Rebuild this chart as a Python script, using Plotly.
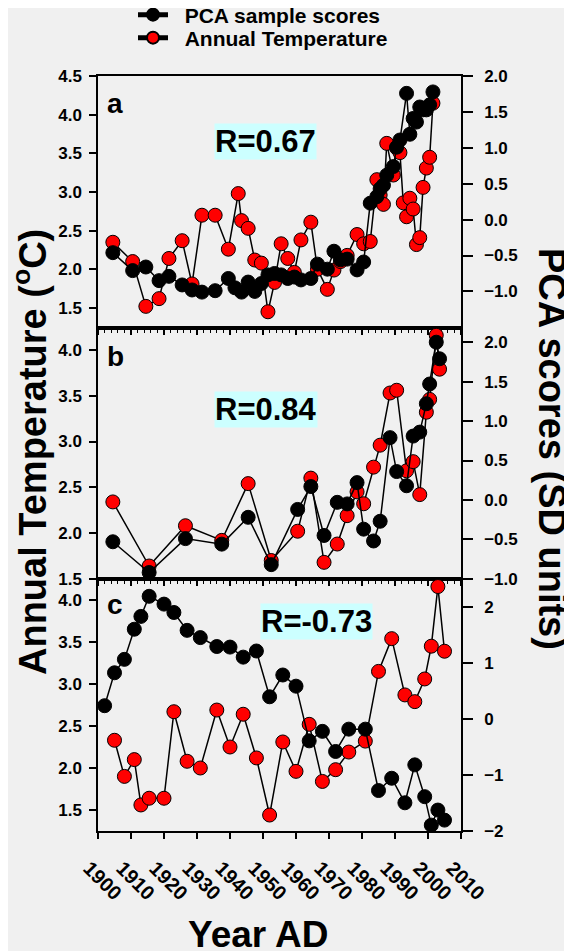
import plotly.graph_objects as go

# ---------------- data ----------------
# Panel a
years_a_temp = [1904.5, 1910.5, 1914.5, 1918.5, 1921.5, 1925.5, 1928.5, 1931.5, 1935.5, 1939.5,
                1942.5, 1943.5, 1945.5, 1947.5, 1949.5, 1951.5, 1953.5, 1955.5, 1957.5, 1959.5,
                1961.5, 1964.5, 1966.5, 1969.5, 1971.5, 1973.5, 1975.5, 1978.5, 1980.5, 1982.5,
                1984.5, 1985.5, 1986.5, 1987.5, 1989.5, 1990.5, 1991.5, 1992.5, 1993.5, 1994.5,
                1995.5, 1996.5, 1997.5, 1998.5, 1999.5, 2000.5, 2001.5]
temp_a = [2.35, 2.10, 1.52, 1.62, 2.14, 2.37, 1.81, 2.70, 2.70, 2.26,
          2.98, 2.63, 2.53, 2.12, 2.08, 1.45, 1.83, 2.33, 2.14, 1.96,
          2.38, 2.61, 2.00, 1.74, 1.99, 2.10, 2.18, 2.45, 2.33, 2.36,
          3.16, 2.96, 2.84, 3.63, 3.22, 3.57, 3.51, 2.86, 2.68, 2.92,
          2.78, 2.32, 2.41, 3.06, 3.31, 3.45, 4.15]
years_a_pca = [1904.5, 1910.5, 1914.5, 1918.5, 1921.5, 1925.5, 1928.5, 1931.5, 1935.5, 1939.5,
               1941.5, 1943.5, 1945.5, 1947.5, 1949.5, 1951.5, 1953.5, 1955.5, 1957.5, 1959.5,
               1961.5, 1964.5, 1966.5, 1969.5, 1971.5, 1973.5, 1975.5, 1978.5, 1980.5, 1982.5,
               1984.5, 1985.5, 1986.5, 1987.5, 1989.5, 1990.5, 1991.5, 1993.5, 1994.5, 1995.5,
               1996.5, 1997.5, 1998.5, 1999.5, 2000.5, 2001.5]
pca_a = [-0.46, -0.71, -0.66, -0.85, -0.79, -0.91, -0.98, -1.01, -0.99, -0.82,
         -0.95, -1.01, -0.87, -1.00, -0.89, -0.77, -0.75, -0.77, -0.82, -0.80,
         -0.84, -0.82, -0.62, -0.69, -0.44, -0.56, -0.55, -0.70, -0.59, 0.23,
         0.32, 0.43, 0.48, 0.62, 0.74, 1.01, 1.11, 1.76, 1.19, 1.41,
         1.36, 1.57, 1.53, 1.53, 1.60, 1.78]

# Panel b
years_b = [1904.5, 1915.5, 1926.5, 1937.5, 1945.5, 1952.5, 1960.5, 1964.5, 1968.5, 1972.5,
           1975.5, 1978.5, 1980.5, 1983.5, 1985.5, 1988.5, 1990.5, 1993.5, 1995.5, 1997.5,
           1999.5, 2000.5, 2002.5, 2003.5]
temp_b = [2.34, 1.64, 2.08, 1.92, 2.54, 1.70, 2.02, 2.60, 1.68, 1.88,
          2.19, 2.45, 2.32, 2.72, 2.96, 3.53, 3.56, 2.68, 2.78, 2.42,
          3.32, 3.46, 4.16, 3.79]
pca_b = [-0.53, -0.92, -0.49, -0.56, -0.22, -0.82, -0.12, 0.17, -0.45, -0.03,
         -0.05, 0.22, -0.37, -0.52, -0.27, 0.79, 0.36, 0.18, 0.81, 0.86,
         1.22, 1.47, 2.00, 1.79]

# Panel c
years_c_temp = [1905, 1908, 1911, 1913, 1915.5, 1920, 1923, 1927, 1931, 1936,
                1940, 1944, 1948, 1952, 1956, 1960, 1964, 1968, 1972, 1976,
                1981, 1985, 1989, 1993, 1996, 1999, 2001, 2003, 2005]
temp_c = [2.33, 1.90, 2.10, 1.56, 1.64, 1.64, 2.67, 2.08, 2.00, 2.69,
          2.25, 2.64, 2.12, 1.44, 2.31, 1.96, 2.52, 1.84, 1.98, 2.19,
          2.32, 3.15, 3.54, 2.87, 2.79, 3.06, 3.45, 4.16, 3.39]
years_c_pca = [1902, 1905, 1908, 1911, 1913, 1915.5, 1920, 1923, 1927, 1931,
               1936, 1940, 1944, 1948, 1952, 1956, 1960, 1964, 1968, 1972,
               1976, 1981, 1985, 1989, 1993, 1996, 1999, 2001, 2003, 2005]
pca_c = [0.24, 0.83, 1.07, 1.61, 1.84, 2.20, 2.06, 1.91, 1.59, 1.46,
         1.30, 1.29, 1.11, 1.22, 0.40, 0.79, 0.59, -0.39, -0.22, -0.58,
         -0.18, -0.18, -1.28, -1.06, -1.50, -0.82, -1.39, -1.90, -1.63, -1.81]

r_labels = ["R=0.67", "R=0.84", "R=-0.73"]
panel_labels = ["a", "b", "c"]
x_ticks = list(range(1900, 2011, 10))
temp_ticks = [1.5, 2.0, 2.5, 3.0, 3.5, 4.0, 4.5]
pca_ticks_ab = [-1.0, -0.5, 0.0, 0.5, 1.0, 1.5, 2.0]
pca_ticks_c = [-2, -1, 0, 1, 2]

# ---------------- figure ----------------
BG = "#f0f0f0"
FONT = "Liberation Sans, Arial, sans-serif"
W, H = 572, 951
OFF = 8  # page body margin of the browser
L, T = 90, 68
R = W - 453
B = H - 823
PH = H - T - B
PW = W - L - R


def py(y):  # screen pixel y -> paper fraction
    return (H - B - (y - OFF)) / PH


def px(x):  # screen pixel x -> paper fraction
    return (x - OFF - L) / PW


fig = go.Figure()


def add(xs, ys, color, xa, ya, name, show, legend):
    fig.add_trace(go.Scatter(
        x=xs, y=ys, mode="lines+markers", xaxis=xa, yaxis=ya, name=name,
        showlegend=show, legend=legend,
        line=dict(color="black", width=1.5),
        marker=dict(size=14, color=color, line=dict(color="black", width=1)),
    ))


NB = "\u00a0\u00a0"
add(years_a_pca, pca_a, "black", "x", "y2", NB + "PCA sample scores", True, "legend")
add(years_a_temp, temp_a, "#ff0000", "x", "y", NB + "Annual Temperature", True, "legend2")
add(years_b, pca_b, "black", "x2", "y4", "PCA sample scores", False, "legend")
add(years_b, temp_b, "#ff0000", "x2", "y3", "Annual Temperature", False, "legend2")
add(years_c_pca, pca_c, "black", "x3", "y6", "PCA sample scores", False, "legend")
add(years_c_temp, temp_c, "#ff0000", "x3", "y5", "Annual Temperature", False, "legend2")

tickfont = dict(family=FONT, size=17, color="black", weight="bold")
xtickfont = dict(family=FONT, size=20, color="black", weight="bold")
dom_a = [py(328), 1]
dom_b = [py(579), py(328)]
dom_c = [0, py(579)]

xbase = dict(range=[1900, 2010], domain=[0, 1], showline=True, linecolor="black", linewidth=1.5,
             mirror=True, showgrid=False, zeroline=False, tickcolor="black", tickwidth=1.5,
             tickmode="array", tickvals=x_ticks)
xtop = dict(xbase, ticks="outside", ticklen=5, showticklabels=False,
            minor=dict(ticks="outside", dtick=2, tick0=1900, ticklen=3, tickcolor="black", tickwidth=1))

ybase = dict(showline=True, linecolor="black", linewidth=1.5, showgrid=False, zeroline=False,
             ticks="outside", tickcolor="black", tickwidth=1.5, tickfont=tickfont, tickmode="array")
yleft = dict(ybase, ticklen=7, side="left", tickformat=".1f", tickvals=temp_ticks,
             ticklabelstandoff=4)
yright = dict(ybase, ticklen=10, side="right", ticklabelstandoff=8)

legfont = dict(family=FONT, size=21, color="black", weight="bold")

fig.update_layout(
    width=W, height=H, paper_bgcolor=BG, plot_bgcolor=BG,
    margin=dict(l=L, r=R, t=T, b=B, autoexpand=False),
    xaxis=dict(xtop, anchor="y"),
    xaxis2=dict(xtop, anchor="y3"),
    xaxis3=dict(xbase, anchor="y5", ticks="outside", ticklen=6, tickangle=45, tickfont=xtickfont,
                ticktext=[str(v) for v in x_ticks], ticklabelstandoff=10, ticklabelshift=-9),
    yaxis=dict(yleft, domain=dom_a, anchor="x", range=[1.24, 4.502]),
    yaxis2=dict(yright, domain=dom_a, anchor="x", overlaying="y", range=[-1.51, 2.002],
                tickvals=pca_ticks_ab, tickformat=".1f"),
    yaxis3=dict(yleft, domain=dom_b, anchor="x2", range=[1.498, 4.24]),
    yaxis4=dict(yright, domain=dom_b, anchor="x2", overlaying="y3", range=[-1.002, 2.18],
                tickvals=pca_ticks_ab, tickformat=".1f"),
    yaxis5=dict(yleft, domain=dom_c, anchor="x3", range=[1.25, 4.25]),
    yaxis6=dict(yright, domain=dom_c, anchor="x3", overlaying="y5", range=[-2.005, 2.51],
                tickvals=pca_ticks_c, tickformat="d"),
    legend=dict(x=px(133), y=py(15), xanchor="left", yanchor="middle", bgcolor="rgba(0,0,0,0)",
                font=legfont, itemsizing="constant"),
    legend2=dict(x=px(133), y=py(38), xanchor="left", yanchor="middle", bgcolor="rgba(0,0,0,0)",
                 font=legfont, itemsizing="constant"),
    showlegend=True,
)

ann_font = dict(family=FONT, size=31, color="black", weight="bold")
# R boxes
r_pos = [(1950.8, 3.65, "x", "y"), (1950.8, 3.35, "x2", "y3"), (1966.1, 3.74, "x3", "y5")]
for lab, (xx, yy, xr, yr) in zip(r_labels, r_pos):
    fig.add_annotation(x=xx, y=yy, xref=xr, yref=yr, text=lab, showarrow=False,
                       xanchor="center", yanchor="middle",
                       bgcolor="#ccffff", borderpad=0, font=ann_font)
# panel letters
p_pos = [(1902.0, 4.14, "x", "y"), (1902.0, 3.93, "x2", "y3"), (1902.0, 3.95, "x3", "y5")]
for lab, (xx, yy, xr, yr) in zip(panel_labels, p_pos):
    fig.add_annotation(x=xx, y=yy, xref=xr, yref=yr, text=lab, showarrow=False,
                       xanchor="left", yanchor="middle",
                       font=dict(family=FONT, size=28, color="black", weight="bold"))

vfont = dict(family=FONT, size=38, color="black", weight="bold")
hfont = dict(family=FONT, size=37, color="black", weight="bold")
fig.add_annotation(x=px(30), y=py(452), xref="paper", yref="paper",
                   text="Annual Temperature (<sup>o</sup>C)", textangle=-90, showarrow=False,
                   xanchor="center", yanchor="middle", font=vfont)
fig.add_annotation(x=px(552), y=py(449), xref="paper", yref="paper", text="PCA scores (SD units)",
                   textangle=90, showarrow=False, xanchor="center", yanchor="middle", font=vfont)
fig.add_annotation(x=px(258), y=py(934), xref="paper", yref="paper", text="Year AD",
                   showarrow=False, xanchor="center", yanchor="middle", font=hfont)

fig.write_html("out.html")
